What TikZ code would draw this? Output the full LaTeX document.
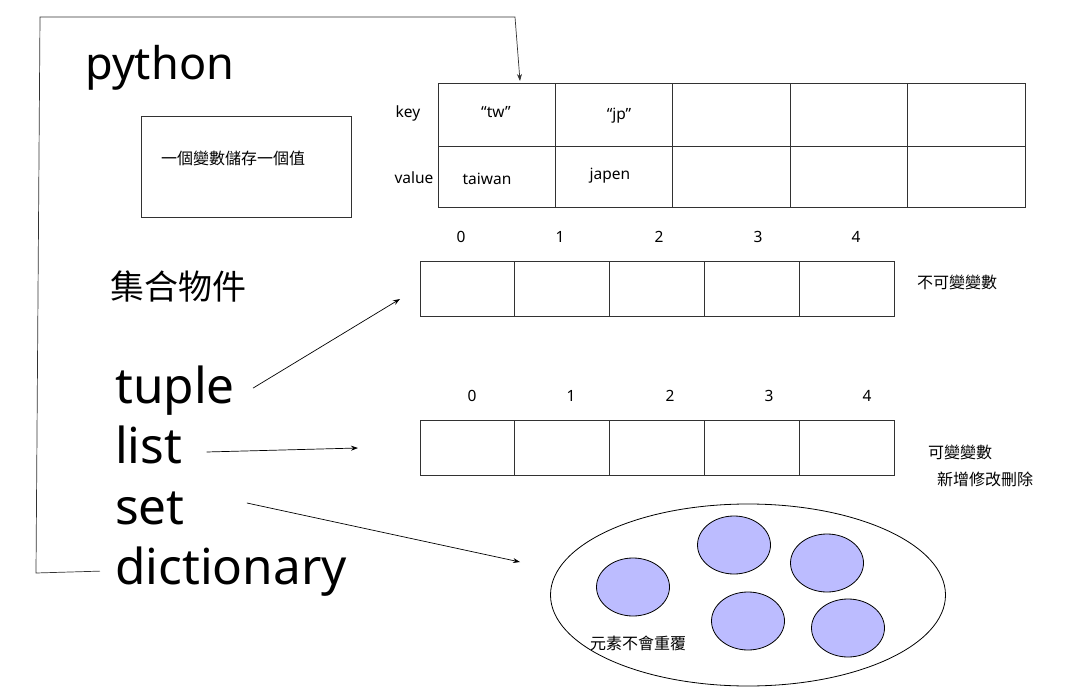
\documentclass[tikz,border=0pt]{standalone}
\usepackage{fontspec}
\setmainfont{Noto Sans}
\newfontfamily\cjk{Noto Sans CJK TC}
\usetikzlibrary{arrows.meta,shapes.geometric}
\definecolor{elem}{RGB}{188,188,255}
\definecolor{ln}{RGB}{50,50,50}
\tikzset{
  cellbox/.style={draw=ln, line width=0.9pt, inner sep=0pt},
  small/.style={inner sep=0pt, text height=11pt, text depth=3pt, font=\fontsize{15.5}{18}\selectfont},
  cjksmall/.style={inner sep=0pt, font=\cjk\fontsize{16}{18}\selectfont},
  big/.style={inner sep=0pt, anchor=base west, font=\fontsize{49.5}{56}\selectfont},
  arr/.style={draw=black, line width=0.7pt, -{Stealth[length=7pt,width=5pt]}},
  elemc/.style={ellipse, draw=black, line width=0.8pt, fill=elem, minimum width=73pt, minimum height=58pt, inner sep=0pt}
}
\begin{document}
\begin{tikzpicture}[x=1pt,y=-1pt]
\useasboundingbox (0,0) rectangle (1076,692);

% titles
\node[inner sep=0pt, anchor=base west, font=\fontsize{45}{52}\selectfont] (python) at (85,80) {python};
\node[inner sep=0pt, font=\cjk\fontsize{34}{40}\selectfont] (jihe) at (178,287) {集合物件};

% variable box
\node[draw=ln, line width=0.9pt, minimum width=210pt, minimum height=101pt, inner sep=0pt] (varbox) at (246,166.5) {};
\node[cjksmall] (vartext) at (233,158) {一個變數儲存一個值};

% dictionary table
\foreach \i in {1,...,5} {
  \node[cellbox, minimum width=117.4pt, minimum height=63pt] (dk\i) at ({438+117.4*(\i-0.5)},114.5) {};
  \node[cellbox, minimum width=117.4pt, minimum height=61pt] (dv\i) at ({438+117.4*(\i-0.5)},176.5) {};
}
\node[small] (keylab) at (408,114) {key};
\node[small] (vallab) at (414,180) {value};
\node[small] (tw) at (496,114) {“tw”};
\node[small] (jp) at (619,116) {“jp”};
\node[small] (taiwan) at (487,181) {taiwan};
\node[small] (japen) at (610,176) {japen};

% tuple array
\foreach \i/\x in {0/461,1/560,2/659,3/758,4/856} {
  \node[cellbox, minimum width=94.8pt, minimum height=55pt] (t\i) at ({420+94.8*(\i+0.5)},288.5) {};
  \node[small] (ti\i) at (\x,239) {\i};
}
\node[cjksmall] (immut) at (957,282) {不可變變數};

% list array
\foreach \i/\x in {0/472,1/571,2/670,3/769,4/867} {
  \node[cellbox, minimum width=94.8pt, minimum height=55pt] (l\i) at ({420+94.8*(\i+0.5)},447.5) {};
  \node[small] (li\i) at (\x,398) {\i};
}
\node[cjksmall] (mut) at (960,452) {可變變數};
\node[cjksmall] (crud) at (985,479) {新增修改刪除};

% set
\node[ellipse, draw=black, line width=0.8pt, minimum width=395pt, minimum height=182pt, inner sep=0pt] (setbox) at (748,595) {};
\node[elemc] (e1) at (633,587) {};
\node[elemc] (e2) at (734,545) {};
\node[elemc] (e3) at (827,563) {};
\node[elemc] (e4) at (748,621) {};
\node[elemc] (e5) at (848,628) {};
\node[cjksmall] (uniq) at (638,643) {元素不會重覆};

% big words
\node[big] (tuple) at (115,403) {tuple};
\node[big] (list) at (115,463) {list};
\node[big] (set) at (115,524) {set};
\node[big] (dict) at (115,584) {dictionary};

% arrows
\coordinate (tupleend) at (400,299);
\coordinate (listend) at (358,448);
\coordinate (setend) at (520,562);
\coordinate (dictend) at (520,81);
\draw[arr] ([xshift=18pt,yshift=2pt]tuple.east) -- (tupleend);
\draw[arr] ([xshift=24pt,yshift=11pt]list.base east) -- (listend);
\draw[arr] ([xshift=62pt,yshift=21pt]set.base east) -- (setend);
\draw[arr, draw=ln] ([xshift=-15pt]dict.west) -- (36,573) -- (40,17) -- (515,17) -- (dictend);
\end{tikzpicture}
\end{document}
